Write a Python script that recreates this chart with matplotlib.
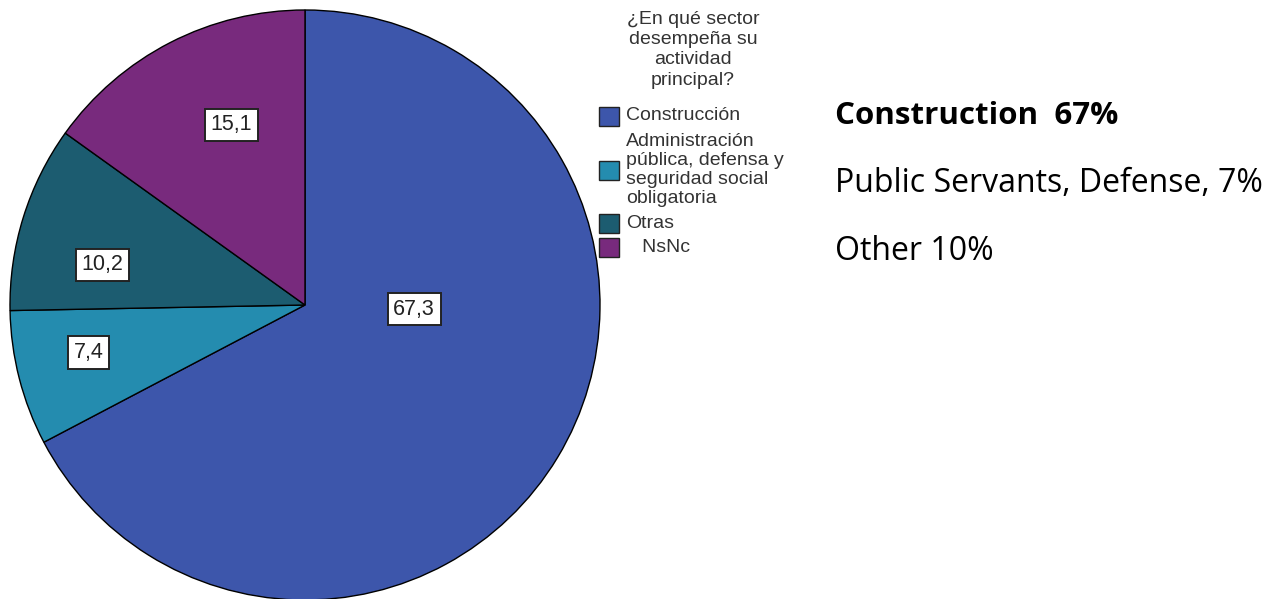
import matplotlib.pyplot as plt
from matplotlib.patches import Rectangle
import numpy as np

# datos del grafico
sectores = ["Construcción", "Administración\npública, defensa y\nseguridad social\nobligatoria", "Otras", "   NsNc"]
porcentajes = [67.3, 7.4, 10.2, 15.1]
colores = ["#3D56AB", "#248CAF", "#1C5C70", "#782A7D"]
etiquetas = ["67,3", "7,4", "10,2", "15,1"]
titulo_leyenda = "¿En qué sector\ndesempeña su\nactividad\nprincipal?"
notas = ["Construction  67%", "Public Servants, Defense, 7%", "Other 10%"]

plt.rcParams['font.family'] = ['Liberation Sans', 'DejaVu Sans']

fig = plt.figure(figsize=(12.74, 5.99), dpi=100)
ax = fig.add_axes([10 / 1274, -1 / 599, 590 / 1274, 590 / 599])

wedges, _ = ax.pie(porcentajes, colors=colores, startangle=90, counterclock=False,
                   wedgeprops=dict(edgecolor="black", linewidth=1.0))
ax.set_xlim(-1, 1)
ax.set_ylim(-1, 1)
ax.set_aspect("equal")

# posicion de las etiquetas (radio relativo y desplazamiento de angulo)
radio_et = [0.37, 0.75, 0.70, 0.66]
despl_et = [29, -2, 6, -5]
for w, txt, r, d in zip(wedges, etiquetas, radio_et, despl_et):
    ang = np.deg2rad((w.theta1 + w.theta2) / 2 + d)
    ax.text(r * np.cos(ang), r * np.sin(ang), txt, ha="center", va="center",
            fontsize=15.5, color="#222222",
            bbox=dict(boxstyle="square,pad=0.26", fc="white", ec="#222222", lw=1.4))

# leyenda manual estilo SPSS
fig.text(693 / 1274, 1 - 11 / 599, titulo_leyenda, ha="center", va="top",
         fontsize=14, color="#333333", linespacing=1.25)
filas_y = [116, 170, 223, 247]
for y, col, lab in zip(filas_y, colores, sectores):
    fig.patches.append(Rectangle((599 / 1274, 1 - (y + 9.5) / 599), 20 / 1274, 19 / 599,
                                 transform=fig.transFigure, fc=col, ec="#222222", lw=1))
    fig.text(626 / 1274, 1 - y / 599, lab, ha="left", va="center",
             fontsize=14, color="#333333", linespacing=1.14)

# notas a la derecha
notas_y = [116, 183, 251]
tamanos = [22.5, 23, 23]
for i, (t, y, s) in enumerate(zip(notas, notas_y, tamanos)):
    fig.text(835 / 1274, 1 - y / 599, t, ha="left", va="center", fontsize=s,
             family=["Open Sans", "DejaVu Sans"],
             fontweight="bold" if i == 0 else "normal", color="black")

fig.savefig("out.png", dpi=100)
